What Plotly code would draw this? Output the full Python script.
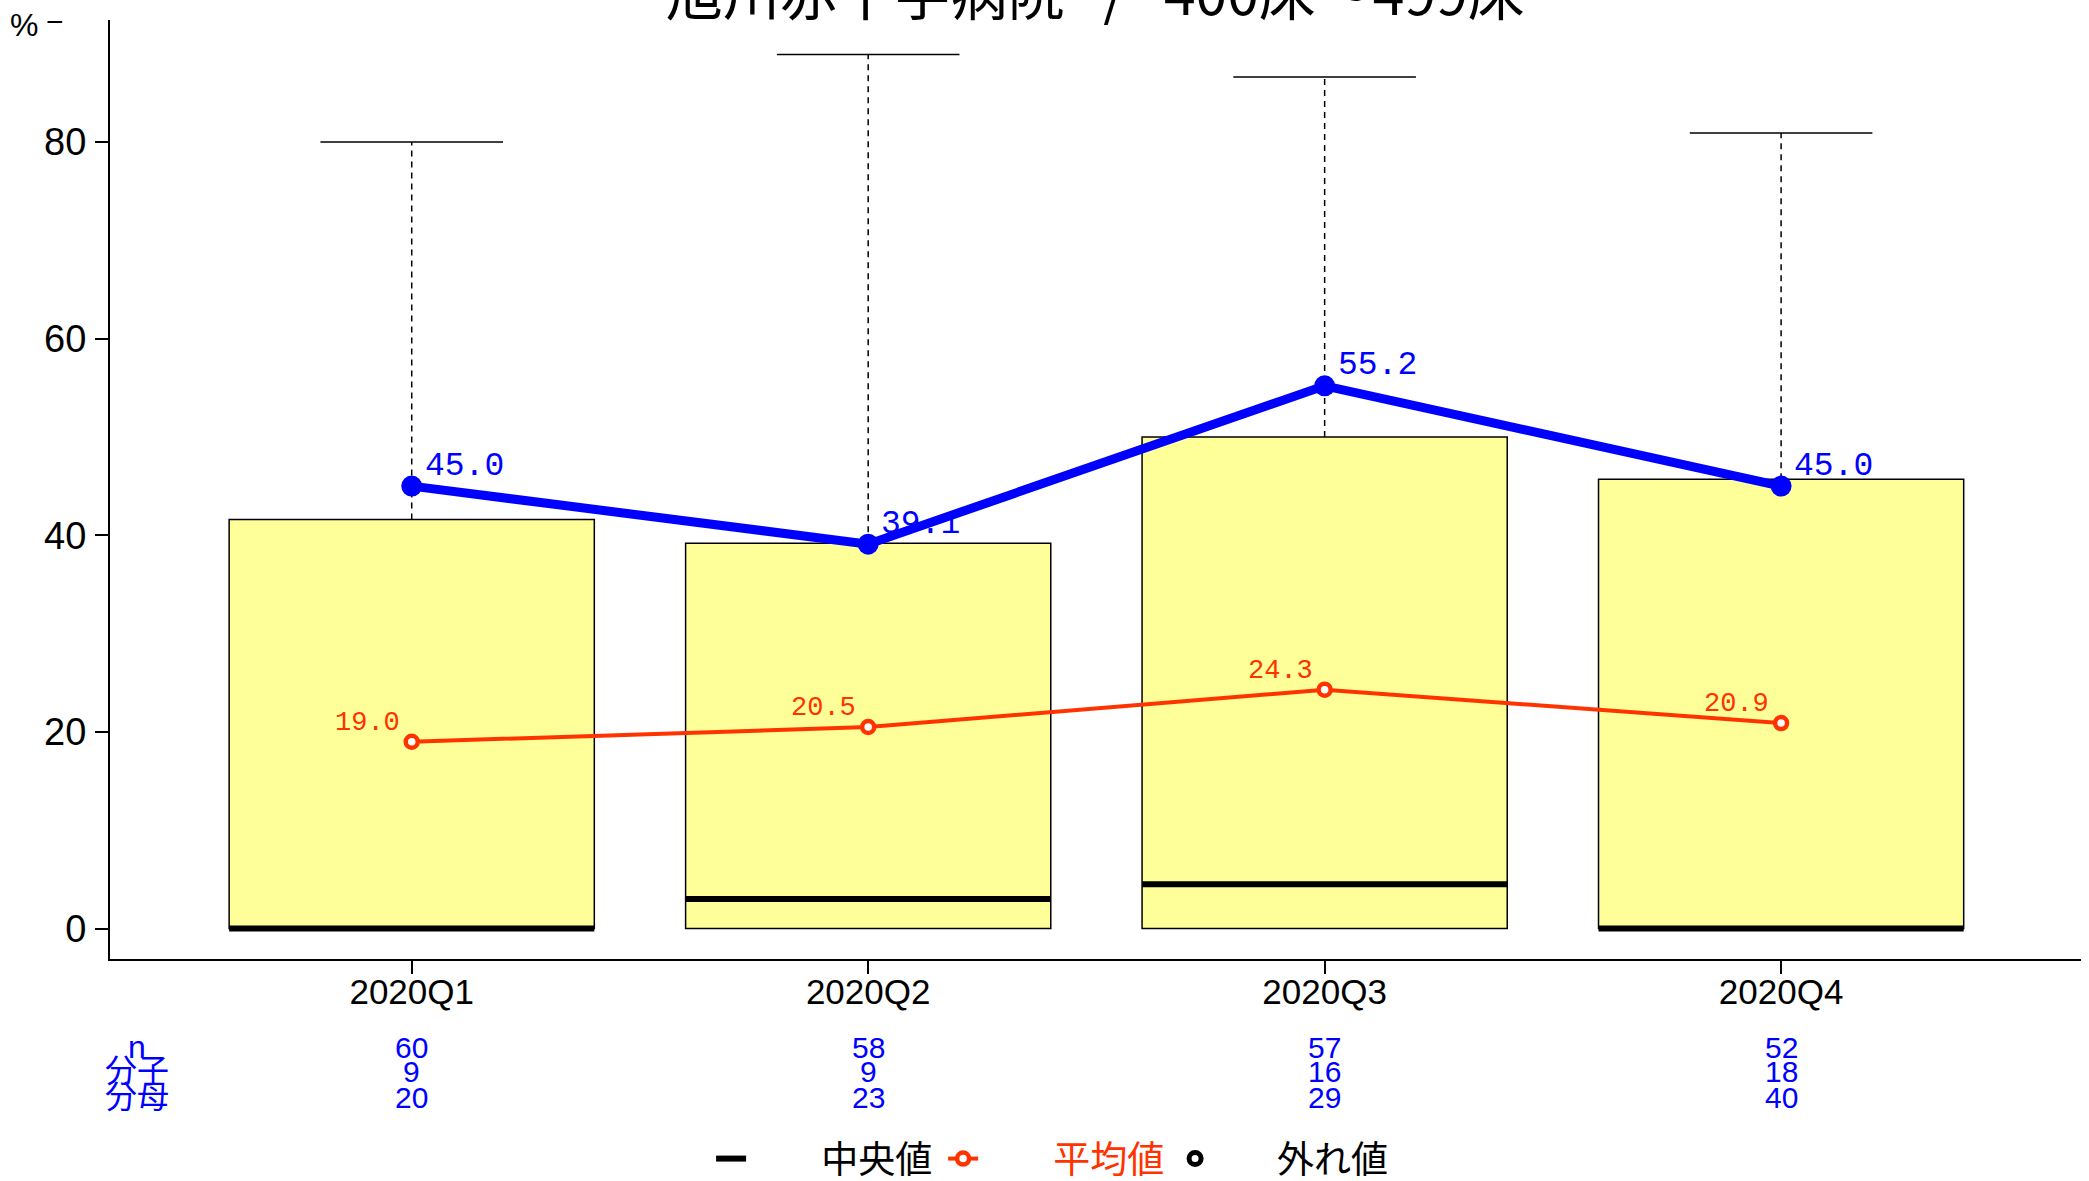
import plotly.graph_objects as go

# ---------------- data ----------------
categories = ["2020Q1", "2020Q2", "2020Q3", "2020Q4"]
box_q1 = [0.0, 0.0, 0.0, 0.0]
box_median = [0.0, 3.0, 4.5, 0.0]
box_q3 = [41.6, 39.2, 50.0, 45.7]
whisker_upper = [80.0, 88.9, 86.6, 80.9]
upper_values = [45.0, 39.1, 55.2, 45.0]      # blue line
mean_values = [19.0, 20.5, 24.3, 20.9]       # red line
n_values = [60, 58, 57, 52]
numerator_values = [9, 9, 16, 18]
denominator_values = [20, 23, 29, 40]
table_labels = ["n", "分子", "分母"]
y_ticks = [0, 20, 40, 60, 80]
title_text = "旭川赤十字病院\u00a0\u00a0\u00a0/\u00a0\u00a0\u00a0400床～499床"
legend_names = ["中央値", "平均値", "外れ値"]

# ---------------- style ----------------
W, H = 2089, 1181
M_L, M_R, M_T, M_B = 110, 8, 20, 222
BOX_HALF = 0.4
CAP_HALF = 0.2
RED = "#FF3300"
BLUE = "#0000FF"
YELLOW = "#FFFF99"
LAT = "Liberation Sans, Arial, sans-serif"
MONO = "Liberation Mono, DejaVu Sans Mono, monospace"
CJK = "Liberation Sans, Noto Sans CJK JP, sans-serif"
PAD_LONG = "\u3000\u00a0\u00a0\u00a0\u00a0"
PAD_SHORT = "\u3000\u00a0\u00a0\u00a0"

xs = list(range(len(categories)))

fig = go.Figure()

# boxes
fig.add_trace(go.Bar(
    x=xs, y=[q3 - q1 for q1, q3 in zip(box_q1, box_q3)], base=box_q1,
    width=2 * BOX_HALF,
    marker=dict(color=YELLOW, line=dict(color="black", width=1.5)),
    showlegend=False, hoverinfo="skip"))

# dashed whiskers
wx, wy = [], []
for i, q3, wu in zip(xs, box_q3, whisker_upper):
    wx += [i, i, None]
    wy += [q3, wu, None]
fig.add_trace(go.Scatter(x=wx, y=wy, mode="lines",
                         line=dict(color="black", width=1.5, dash="6px,5px"),
                         showlegend=False, hoverinfo="skip"))

# caps
cx, cy = [], []
for i, wu in zip(xs, whisker_upper):
    cx += [i - CAP_HALF, i + CAP_HALF, None]
    cy += [wu, wu, None]
fig.add_trace(go.Scatter(x=cx, y=cy, mode="lines",
                         line=dict(color="black", width=1.5),
                         showlegend=False, hoverinfo="skip"))

# medians
mx, my = [], []
for i, m in zip(xs, box_median):
    mx += [i - BOX_HALF, i + BOX_HALF, None]
    my += [m, m, None]
fig.add_trace(go.Scatter(x=mx, y=my, mode="lines",
                         line=dict(color="black", width=6),
                         name=PAD_LONG + legend_names[0], hoverinfo="skip"))

# mean line
fig.add_trace(go.Scatter(
    x=xs, y=mean_values, mode="lines+markers",
    line=dict(color=RED, width=4),
    marker=dict(symbol="circle", size=12, color="white", line=dict(color=RED, width=4.5)),
    name=f"<span style='color:{RED}'>{PAD_LONG}{legend_names[1]}</span>"))

# outliers (none)
fig.add_trace(go.Scatter(
    x=[None], y=[None], mode="markers",
    marker=dict(symbol="circle", size=12, color="white", line=dict(color="black", width=5)),
    name=PAD_SHORT + legend_names[2]))

# blue line
fig.add_trace(go.Scatter(
    x=xs, y=upper_values, mode="lines+markers",
    line=dict(color=BLUE, width=9),
    marker=dict(size=21, color=BLUE),
    showlegend=False))

annotations = []
# title
annotations.append(dict(text=title_text, x=0.5, y=1, xref="paper", yref="paper",
                        yshift=30, xanchor="center", yanchor="middle", showarrow=False,
                        font=dict(size=57, color="black", family="Noto Sans CJK JP")))
# labels
for i, v in zip(xs, upper_values):
    annotations.append(dict(text=f"{v:.1f}", x=i, y=v, xref="x", yref="y",
                            xanchor="left", yanchor="middle", xshift=11, yshift=20,
                            showarrow=False, font=dict(size=33, color=BLUE, family=MONO)))
for i, v in zip(xs, mean_values):
    annotations.append(dict(text=f"{v:.1f}", x=i, y=v, xref="x", yref="y",
                            xanchor="right", yanchor="middle", xshift=-10, yshift=19,
                            showarrow=False, font=dict(size=27, color=RED, family=MONO)))
# table
row_shift = [-88, -112, -138]
rows = [n_values, numerator_values, denominator_values]
for r, (lab, vals) in enumerate(zip(table_labels, rows)):
    annotations.append(dict(text=lab, x=(137 - M_L) / (W - M_L - M_R), y=0,
                            xref="paper", yref="paper", yshift=row_shift[r],
                            xanchor="center", yanchor="middle", showarrow=False,
                            font=dict(size=32, color=BLUE, family=CJK)))
    for i, v in zip(xs, vals):
        annotations.append(dict(text=str(v), x=i, y=0, xref="x", yref="paper",
                                yshift=row_shift[r], xanchor="center", yanchor="middle",
                                showarrow=False, font=dict(size=30, color=BLUE, family=LAT)))
# % label
annotations.append(dict(text="%", x=(24 - M_L) / (W - M_L - M_R), y=1, xref="paper", yref="paper",
                        yshift=-5, xanchor="center", yanchor="middle", showarrow=False,
                        font=dict(size=32, color="black", family=LAT)))
annotations.append(dict(text="−", x=(55 - M_L) / (W - M_L - M_R), y=1, xref="paper", yref="paper",
                        yshift=-1, xanchor="center", yanchor="middle", showarrow=False,
                        font=dict(size=30, color="black", family=LAT)))

fig.update_layout(
    width=W, height=H,
    margin=dict(l=M_L, r=M_R, t=M_T, b=M_B, pad=0),
    paper_bgcolor="white", plot_bgcolor="white",
    barmode="overlay",
    annotations=annotations,
    legend=dict(orientation="h", xref="container", yref="container",
                x=0.3404, xanchor="left", y=0.0186, yanchor="middle",
                font=dict(size=37, color="black", family="Noto Sans CJK JP"),
                traceorder="normal", entrywidth=187, bgcolor="rgba(0,0,0,0)"),
    xaxis=dict(range=[-0.661, 3.657], tickvals=xs, ticktext=categories,
               showline=True, linecolor="black", linewidth=2,
               ticks="outside", ticklen=13, tickwidth=2, tickcolor="black",
               showgrid=False, zeroline=False, ticklabelstandoff=-12,
               tickfont=dict(size=35, color="black", family=LAT)),
    yaxis=dict(range=[-3.09, 92.4], tickvals=y_ticks,
               showline=True, linecolor="black", linewidth=2,
               ticks="outside", ticklen=13, tickwidth=2, tickcolor="black",
               showgrid=False, zeroline=False, ticklabelstandoff=1,
               tickfont=dict(size=38, color="black", family=LAT)),
)

fig.write_html("out.html", config={"displayModeBar": False},
               post_script="document.body.style.margin='0';document.body.style.padding='0';"
                           "document.body.style.overflow='hidden';")
